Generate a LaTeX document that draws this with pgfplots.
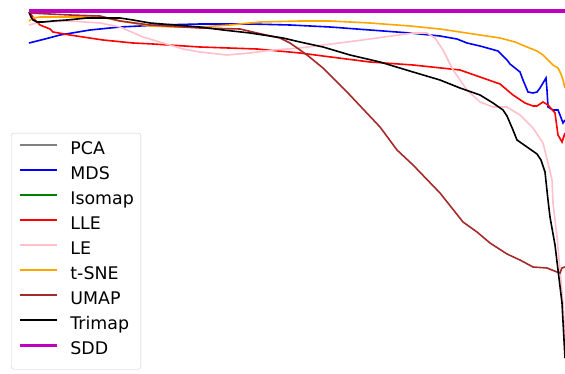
\documentclass[border=0pt]{standalone}
\usepackage{fontspec}
\setmainfont{DejaVu Sans}
\usepackage{pgfplots}
\pgfplotsset{compat=1.18}

\definecolor{mplgray}{HTML}{808080}
\definecolor{mplblue}{HTML}{0000FF}
\definecolor{mplgreen}{HTML}{008000}
\definecolor{mplred}{HTML}{FF0000}
\definecolor{mplpink}{HTML}{FFC0CB}
\definecolor{mplorange}{HTML}{FFA500}
\definecolor{mplbrown}{HTML}{A52A2A}
\definecolor{mplmagenta}{HTML}{BF00BF}

\begin{document}
\begin{tikzpicture}
\useasboundingbox (0,0) rectangle (565pt,374pt);
\begin{axis}[
  at={(0,0)}, anchor=south west,
  width=565pt, height=374pt, scale only axis,
  xmin=0, xmax=565, ymin=0, ymax=374,
  y dir=reverse,
  hide axis,
  legend image code/.code={\draw[#1] (0pt,6pt) -- (37pt,6pt);},
  legend cell align=left,
  legend style={
    at={(axis cs:11,133)}, anchor=north west,
    draw=black!20, rounded corners=2.5pt, fill=white,
    inner xsep=7pt, inner ysep=7.5pt,
    row sep=4pt, column sep=12pt,
    font=\fontsize{17.4}{20}\selectfont,
    nodes={inner sep=0pt, text height=14pt, text depth=7pt},
  },
]
% PCA
\addplot[line width=1.6pt, mplgray] coordinates {(29,11) (565,11)};
\addlegendentry{PCA}
% MDS
\addplot[line width=1.6pt, mplblue] coordinates {
(29,43) (45,39) (60,35) (90,30) (120,27) (160,25) (200,24) (250,24) (290,25)
(330,27) (370,30) (410,33) (440,36) (457,39) (467,43) (480,46) (498,51)
(507,60) (510,64) (515,68) (520,72) (523,80) (528,92) (533,93) (537,92)
(540,88) (546,78) (547,90) (548,107) (553,110) (558,110) (560,115) (563,123) (565,120)};
\addlegendentry{MDS}
% Isomap
\addplot[line width=1.6pt, mplgreen] coordinates {(29,11) (565,11)};
\addlegendentry{Isomap}
% LLE
\addplot[line width=1.6pt, mplred] coordinates {
(30,13) (35,20) (40,25) (50,29) (53,32) (70,35) (83,37) (103,40) (133,43)
(153,44) (200,47) (257,49) (300,53) (323,56) (370,62) (413,65) (460,70)
(480,77) (500,84) (513,95) (525,103) (533,106) (537,106) (543,102) (548,105)
(555,113) (558,135) (562,142) (565,133)};
\addlegendentry{LLE}
% LE
\addplot[line width=1.6pt, mplpink] coordinates {
(29,25) (40,22) (70,21) (100,23) (120,27) (143,37) (163,43) (183,49) (200,52)
(227,55) (250,53) (273,50) (300,48) (323,45) (347,42) (370,39) (413,33)
(427,33) (435,38) (443,50) (453,70) (460,80) (467,90) (480,102) (493,107)
(507,107) (520,115) (533,128) (543,143) (548,163) (552,180) (553,203)
(557,237) (560,270) (563,303) (565,340)};
\addlegendentry{LE}
% t-SNE
\addplot[line width=1.6pt, mplorange] coordinates {
(29,21) (33,18) (40,17) (70,17) (100,17) (120,21) (150,26) (175,27) (200,27)
(230,25) (260,22) (300,21) (330,21) (370,23) (410,26) (440,29) (460,32)
(480,35) (500,38) (515,42) (527,47) (537,51) (543,55) (548,60) (553,65)
(558,68) (561,74) (563,80) (565,88)};
\addlegendentry{t-SNE}
% UMAP
\addplot[line width=1.6pt, mplbrown] coordinates {
(29,13) (70,15) (100,16) (120,21) (150,25) (200,28) (240,29) (257,33) (280,38)
(290,43) (300,50) (307,55) (323,68) (347,92) (380,127) (397,150) (413,165)
(440,193) (463,222) (477,232) (490,243) (507,254) (520,260) (533,267)
(547,268) (557,272) (560,273) (562,268) (565,267)};
\addlegendentry{UMAP}
% Trimap
\addplot[line width=1.6pt, black] coordinates {
(29,12) (31,17) (33,20) (37,22) (43,22) (53,21) (67,20) (87,18) (100,18)
(120,18) (133,20) (150,23) (175,25) (200,27) (223,30) (250,33) (283,38)
(300,42) (323,47) (350,55) (380,62) (413,72) (440,80) (460,88) (480,95)
(493,103) (503,110) (507,116) (513,130) (517,140) (527,147) (537,154)
(541,160) (545,172) (548,200) (550,217) (555,245) (558,270) (562,303)
(564,340) (565,358)};
\addlegendentry{Trimap}
% SDD
\addplot[line width=3.2pt, mplmagenta] coordinates {(29,11) (565,11)};
\addlegendentry{SDD}
\end{axis}
\end{tikzpicture}
\end{document}
